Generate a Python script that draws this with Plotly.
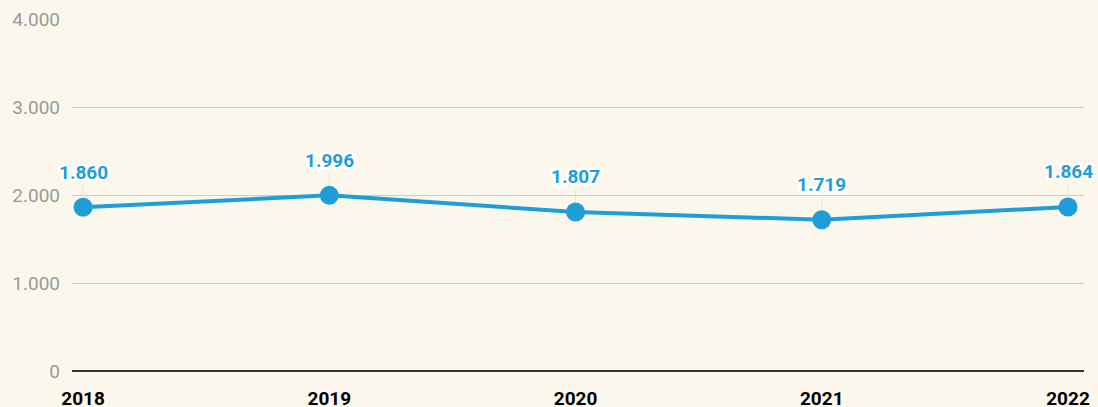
import plotly.graph_objects as go

years = ["2018", "2019", "2020", "2021", "2022"]
values = [1860, 1996, 1807, 1719, 1864]
y_ticks = [0, 1000, 2000, 3000, 4000]

BLUE = "#1f9dd9"
BG = "#fbf7ec"

fig = go.Figure()
fig.add_trace(go.Scatter(
    x=list(range(len(years))), y=values, mode="lines+markers",
    line=dict(color=BLUE, width=4),
    marker=dict(color=BLUE, size=19),
    hoverinfo="skip", showlegend=False, cliponaxis=False,
))

halo = ", ".join(f"{dx}px {dy}px 0px white" for dx in (-2, -1, 0, 1, 2) for dy in (-2, -1, 0, 1, 2) if dx or dy)
for i, v in enumerate(values):
    fig.add_annotation(
        x=i, y=v, xref="x", yref="y",
        text=f"{v:,}".replace(",", "."),
        showarrow=True, arrowhead=0, arrowwidth=1, arrowcolor="#e6e3dc",
        ax=0, ay=-35, standoff=10,
        font=dict(family="Roboto", size=19, color=BLUE, weight="bold", shadow=halo),
    )

fig.update_layout(
    width=1098, height=407,
    margin=dict(l=72, r=14, t=19, b=36),
    paper_bgcolor=BG, plot_bgcolor=BG,
    separators=",.",
    font=dict(family="Roboto"),
    xaxis=dict(
        range=[-0.045, 4.065], automargin=False,
        tickmode="array", tickvals=list(range(len(years))), ticktext=years,
        showgrid=False, zeroline=False, showline=False,
        tickfont=dict(family="Roboto", size=19, color="black", weight="bold"),
        ticks="", ticklabelstandoff=14,
    ),
    yaxis=dict(
        range=[0, 4000], tickvals=y_ticks, tickformat=",d", automargin=False,
        showgrid=True, gridcolor="#cfccc6", gridwidth=1,
        zeroline=True, zerolinecolor="#333333", zerolinewidth=1.5,
        showline=False, ticks="", ticklabelstandoff=11,
        tickfont=dict(family="Roboto", size=19, color="#9a9a9a"),
    ),
)

fig.write_html(
    "out.html",
    config={"displayModeBar": False},
    post_script="document.body.style.margin='0';document.body.style.overflow='hidden';",
)
